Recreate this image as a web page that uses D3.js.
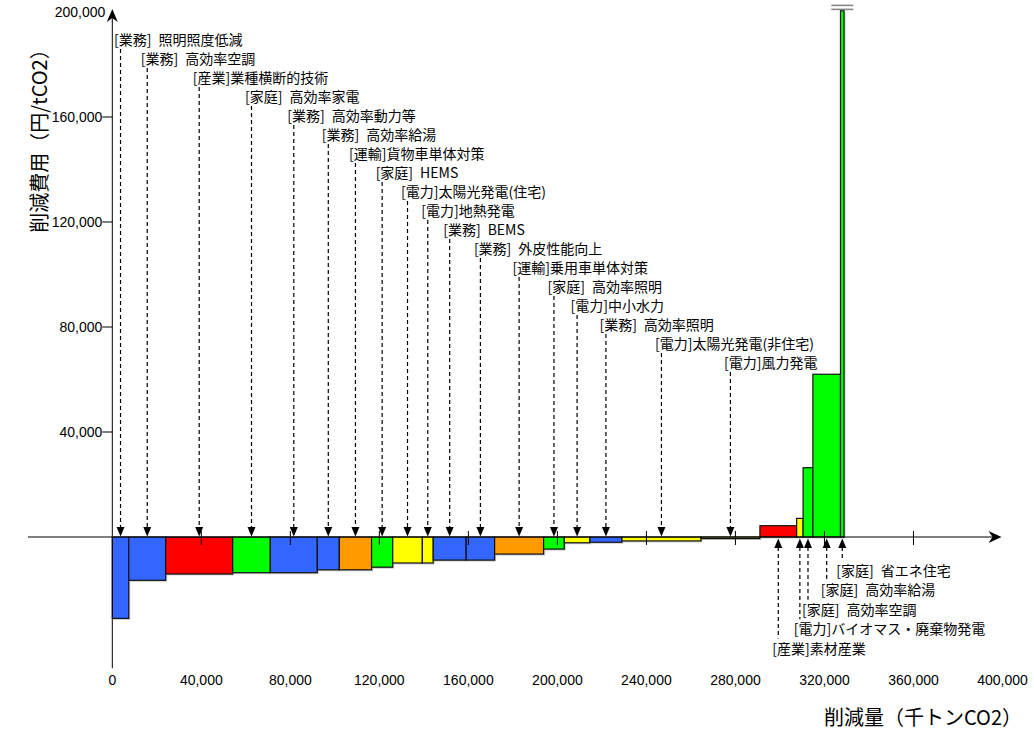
<!DOCTYPE html>
<html>
<head>
<meta charset="utf-8">
<script src="https://cdn.jsdelivr.net/npm/d3@7"></script>
<style>
  html, body { margin: 0; padding: 0; background: #fff; }
  svg { display: block; }
  .lbl { font-family: "Noto Sans CJK JP", sans-serif; font-size: 14px; fill: #000; }
  .tick { font-family: "Liberation Sans", Arial, sans-serif; font-size: 14px; fill: #000; }
  .title { font-family: "Noto Sans CJK JP", sans-serif; font-size: 20px; fill: #000; }
</style>
</head>
<body>
<svg id="chart" width="1034" height="734"></svg>
<script>
// ---- data ----
const sectors = ["業務","業務","産業","家庭","業務","業務","運輸","家庭","電力","電力","業務","業務","運輸","家庭","電力","業務","電力","電力","産業","電力","家庭","家庭","家庭"];
const labels = [
  "[業務] 照明照度低減","[業務] 高効率空調","[産業]業種横断的技術","[家庭] 高効率家電",
  "[業務] 高効率動力等","[業務] 高効率給湯","[運輸]貨物車単体対策","[家庭] HEMS",
  "[電力]太陽光発電(住宅)","[電力]地熱発電","[業務] BEMS","[業務] 外皮性能向上",
  "[運輸]乗用車単体対策","[家庭] 高効率照明","[電力]中小水力","[業務] 高効率照明",
  "[電力]太陽光発電(非住宅)","[電力]風力発電","[産業]素材産業","[電力]バイオマス・廃棄物発電",
  "[家庭] 高効率空調","[家庭] 高効率給湯","[家庭] 省エネ住宅"
];
// abatement amount (thousand tCO2) = bar widths
const amounts = [7400,16600,30100,16900,21100,9900,14500,9500,13300,4900,14800,12800,22000,9300,11500,14400,35500,26500,16500,2900,4400,12400,1600];
// abatement cost (yen/tCO2) = bar heights (last one runs off the chart)
const costs = [-31000,-16500,-14100,-13600,-13600,-12500,-12500,-11500,-9900,-9900,-8800,-8800,-6500,-4600,-2200,-2000,-1500,-600,4300,7100,26400,62000,200500];
const xTicks = [0,40000,80000,120000,160000,200000,240000,280000,320000,360000,400000];
const yTicks = [40000,80000,120000,160000,200000];
const sectorColor = {"業務":"#3366FF","産業":"#FF0000","家庭":"#00FF00","運輸":"#FF9900","電力":"#FFFF00"};
const yCap = 200500;

// ---- scales ----
const x = d3.scaleLinear().domain([0, 400000]).range([112.3, 1002.5]);
const y = d3.scaleLinear().domain([0, 200000]).range([537, 12]);
const svg = d3.select("#chart");

// cumulative positions
let acc = 0;
const bars = amounts.map((w, i) => {
  const d = {i, x0: acc, x1: acc + w, cost: costs[i], sector: sectors[i], label: labels[i]};
  acc += w;
  return d;
});
const fmtLabel = s => s.replace("] ", "]\u2002");

// bar shadows
svg.append("g").selectAll("rect").data(bars).join("rect")
  .attr("x", d => x(d.x0) + 1.5)
  .attr("y", d => Math.min(y(0), y(Math.min(d.cost, yCap))) + 1.5)
  .attr("width", d => x(d.x1) - x(d.x0))
  .attr("height", d => Math.abs(y(Math.min(d.cost, yCap)) - y(0)))
  .attr("fill", "#aaa").attr("opacity", 0.6);

// bars
svg.append("g").selectAll("rect").data(bars).join("rect")
  .attr("x", d => x(d.x0))
  .attr("y", d => Math.min(y(0), y(Math.min(d.cost, yCap))))
  .attr("width", d => x(d.x1) - x(d.x0))
  .attr("height", d => Math.max(1, Math.abs(y(Math.min(d.cost, yCap)) - y(0))))
  .attr("fill", d => sectorColor[d.sector])
  .attr("stroke", "#111").attr("stroke-width", 1.2);

// break mark on the off-scale bar
const lastBar = bars[bars.length - 1];
const lcx = (x(lastBar.x0) + x(lastBar.x1)) / 2;
[y(yCap) - 5.3, y(yCap) - 1.3].forEach(yy => {
  svg.append("line").attr("x1", lcx - 11).attr("x2", lcx + 11)
    .attr("y1", yy).attr("y2", yy).attr("stroke", "#888").attr("stroke-width", 1.6);
});

// axes
const ax = svg.append("g");
ax.append("line").attr("x1", 28).attr("x2", x(400000) - 4).attr("y1", y(0)).attr("y2", y(0))
  .attr("stroke", "#000").attr("stroke-width", 1);
ax.append("path").attr("d", `M${x(400000)-14},${y(0)-6}L${x(400000)-1},${y(0)}L${x(400000)-14},${y(0)+6}L${x(400000)-10},${y(0)}Z`).attr("fill", "#000");
ax.append("line").attr("x1", x(0)).attr("x2", x(0)).attr("y1", y(-50000)).attr("y2", y(200000) + 2)
  .attr("stroke", "#000").attr("stroke-width", 1);
ax.append("path").attr("d", `M${x(0)-5.5},${y(200000)+10}L${x(0)},${y(200000)-3}L${x(0)+5.5},${y(200000)+10}L${x(0)},${y(200000)+6}Z`).attr("fill", "#000");

ax.selectAll(".xt").data(xTicks.slice(1, -1)).join("line")
  .attr("class", "xt")
  .attr("x1", d => x(d)).attr("x2", d => x(d))
  .attr("y1", y(0) - 6).attr("y2", y(0) + 8)
  .attr("stroke", "#000").attr("stroke-width", 1);
ax.selectAll(".xl").data(xTicks).join("text")
  .attr("class", "tick xl")
  .attr("x", d => x(d)).attr("y", 685)
  .attr("text-anchor", "middle")
  .text(d => d3.format(",")(d));

ax.selectAll(".yt").data(yTicks.filter(d => d < 200000)).join("line")
  .attr("class", "yt")
  .attr("x1", x(0) - 10).attr("x2", x(0))
  .attr("y1", d => y(d)).attr("y2", d => y(d))
  .attr("stroke", "#000").attr("stroke-width", 1);
ax.selectAll(".yl").data(yTicks).join("text")
  .attr("class", "tick yl")
  .attr("x", d => d === 200000 ? x(0) - 7 : x(0) - 10).attr("y", d => y(d))
  .attr("dy", "0.36em")
  .attr("text-anchor", "end")
  .text(d => d3.format(",")(d));

svg.append("text").attr("class", "title")
  .attr("transform", "translate(47,136) rotate(-90)")
  .attr("text-anchor", "middle")
  .text("削減費用（円/tCO2）");
svg.append("text").attr("class", "title")
  .attr("x", 1022).attr("y", 725)
  .attr("text-anchor", "end")
  .text("削減量（千トンCO2）");

// callouts
const upper = bars.filter(d => d.cost < 0);
const lower = bars.filter(d => d.cost >= 0);
const g = svg.append("g");
upper.forEach((d, k) => {
  const px = (x(d.x0) + x(d.x1)) / 2;
  const cy = 40 + 19 * k;
  g.append("text").attr("class", "lbl").attr("x", px - 6.5).attr("y", cy).attr("dy", "0.36em").text(fmtLabel(d.label));
  g.append("line").attr("x1", px).attr("x2", px).attr("y1", cy + 9).attr("y2", y(0) - 9)
    .attr("stroke", "#000").attr("stroke-width", 1.2).attr("stroke-dasharray", "4,3");
  g.append("path").attr("d", `M${px-4},${y(0)-10}L${px+4},${y(0)-10}L${px},${y(0)-0.5}Z`).attr("fill", "#000");
});
const nb = lower.length;
lower.forEach((d, k) => {
  const px = (x(d.x0) + x(d.x1)) / 2;
  const row = nb - 1 - k;
  const cy = 571 + 19.4 * row;
  g.append("text").attr("class", "lbl").attr("x", px - 6).attr("y", cy).attr("dy", "0.36em").text(fmtLabel(d.label));
  g.append("line").attr("x1", px).attr("x2", px).attr("y1", y(0) + 10).attr("y2", cy - 10)
    .attr("stroke", "#000").attr("stroke-width", 1.2).attr("stroke-dasharray", "4,3");
  g.append("path").attr("d", `M${px-4},${y(0)+11}L${px+4},${y(0)+11}L${px},${y(0)+1.5}Z`).attr("fill", "#000");
});
</script>
</body>
</html>
